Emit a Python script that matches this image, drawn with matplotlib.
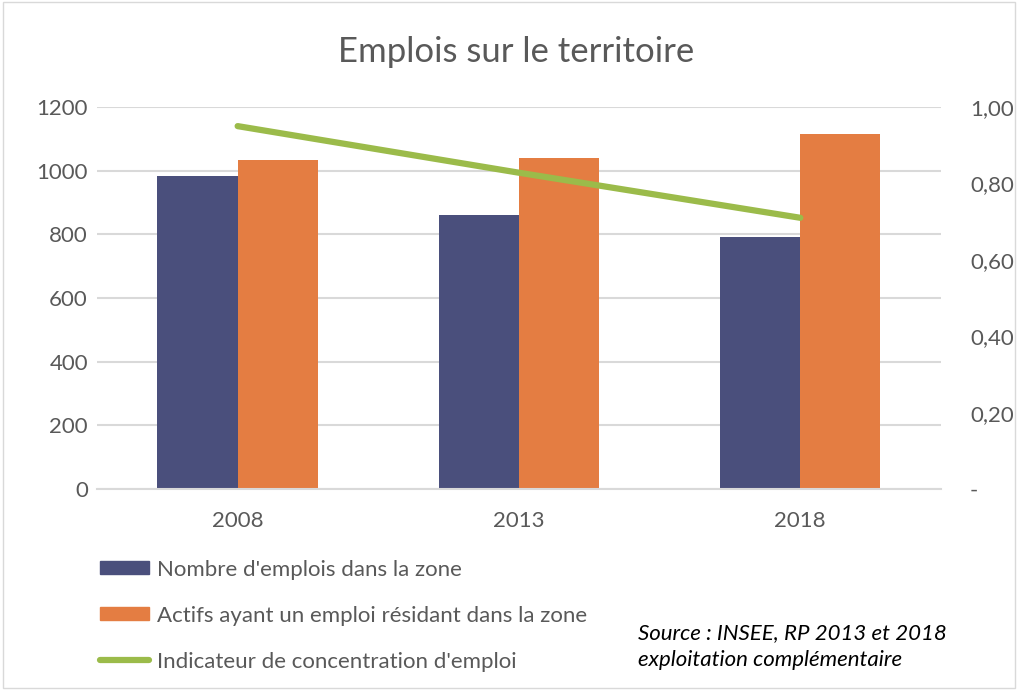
import numpy as np
import matplotlib.pyplot as plt
from matplotlib.patches import Patch, Rectangle
from matplotlib.lines import Line2D

plt.rcParams['font.family'] = ['Lato', 'DejaVu Sans']

years = ['2008', '2013', '2018']
emplois = [983, 861, 792]
actifs = [1034, 1040, 1115]
indicateur = [0.95, 0.828, 0.71]

left_ticks = [0, 200, 400, 600, 800, 1000, 1200]
right_ticks = [0, 0.2, 0.4, 0.6, 0.8, 1.0]
right_labels = ['-', '0,20', '0,40', '0,60', '0,80', '1,00']

grey = '#595959'
navy = '#4a4f7c'
orange = '#e47d42'
green = '#9bbb4a'

fig = plt.figure(figsize=(10.22, 6.9), dpi=100)
ax = fig.add_axes([0.0949, 0.2913, 0.8258, 0.5536])

x = np.arange(len(years))
w = 0.285
ax.bar(x - w / 2, emplois, w, color=navy, zorder=2)
ax.bar(x + w / 2, actifs, w, color=orange, zorder=2)
ax.set_xlim(-0.5, 2.5)
ax.set_ylim(0, 1200)
ax.set_yticks(left_ticks)
ax.set_xticks(x)
ax.set_xticklabels(years)
ax.grid(axis='y', color='#d9d9d9', linewidth=1.5, zorder=0)
for s in ['top', 'left', 'right']:
    ax.spines[s].set_visible(False)
ax.spines['bottom'].set_color('#d9d9d9')
ax.spines['bottom'].set_linewidth(1.5)
ax.tick_params(axis='both', length=0, labelsize=16, colors=grey)
ax.tick_params(axis='y', pad=6.5)
ax.tick_params(axis='x', pad=16)

# indicateur sur l'axe secondaire
ax2 = ax.twinx()
ax2.plot(x, indicateur, color=green, linewidth=4.5, solid_capstyle='round', zorder=3)
ax2.set_ylim(0, 1.0)
ax2.set_yticks(right_ticks)
ax2.set_yticklabels(right_labels)
for s in ax2.spines.values():
    s.set_visible(False)
ax2.tick_params(axis='y', length=0, labelsize=16, colors=grey, pad=21)

fig.text(0.505, 0.925, 'Emplois sur le territoire', ha='center', va='center',
         fontsize=25, color=grey)

handles = [Patch(color=navy), Patch(color=orange),
           Line2D([0], [0], color=green, linewidth=4.5, solid_capstyle='round')]
labels = ["Nombre d'emplois dans la zone",
          "Actifs ayant un emploi résidant dans la zone",
          "Indicateur de concentration d'emploi"]
fig.legend(handles, labels, loc='upper left', bbox_to_anchor=(0.098, 0.189),
           frameon=False, fontsize=16, labelcolor=grey, handlelength=2.2,
           handleheight=0.55, handletextpad=0.35, labelspacing=1.17,
           borderaxespad=0, borderpad=0)

fig.text(0.624, 0.063, 'Source : INSEE, RP 2013 et 2018\nexploitation complémentaire',
         fontsize=16, style='italic', color='black', ha='left', va='center',
         linespacing=1.45)

fig.patches.append(Rectangle((0.003, 0.003), 0.99, 0.994, transform=fig.transFigure,
                             fill=False, edgecolor='#d9d9d9', linewidth=1))

fig.savefig('out.png', dpi=100)
